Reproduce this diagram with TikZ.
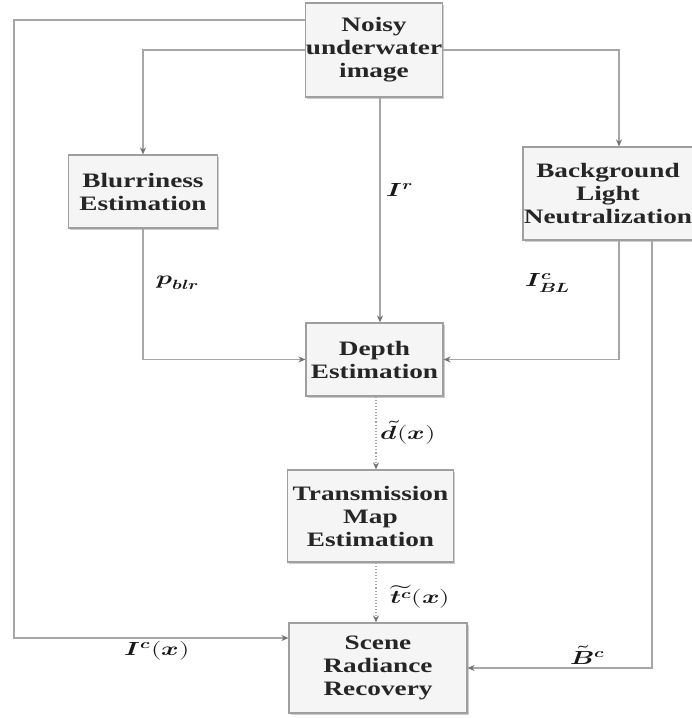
\documentclass[tikz,border=0pt]{standalone}
\usepackage{graphicx}
\usepackage{fontspec}
\usepackage{unicode-math}
\setmathfont{Latin Modern Math}
\usetikzlibrary{arrows.meta,shadows}
\newfontfamily\boxfont[FakeStretch=1.33]{Liberation Serif}
\newcommand{\hs}[1]{\scalebox{1.4}[1]{$#1$}}
\tikzset{
  box/.style={draw=gray!75, line width=1.2pt, fill=gray!8,
    drop shadow={shadow xshift=1.5pt, shadow yshift=-1.5pt, fill=gray!55, opacity=0.7},
    font=\boxfont\bfseries\fontsize{20.5}{23}\selectfont, align=center, inner sep=0pt, text=black!85},
  conn/.style={draw=gray!70, line width=1.1pt, -{Stealth[length=7pt,width=6pt,color=gray!90!black]}},
  dotconn/.style={conn, dotted},
  lbl/.style={font=\fontsize{19}{19}\selectfont, text=black!90}
}
\begin{document}
\begin{tikzpicture}[x=1pt,y=-1pt]
\useasboundingbox (0,0) rectangle (692,718);
\fill[white] (0,0) rectangle (692,718);
\clip (0,0) rectangle (692,718);
\node[box, minimum width=136pt, minimum height=94pt] (noisy) at (374,50) {Noisy\\underwater\\image};
\node[box, minimum width=149pt, minimum height=73pt] (blur) at (143,191.5) {Blurriness\\Estimation};
\node[box, minimum width=170pt, minimum height=93pt] (bg) at (608,193.5) {Background\\Light\\Neutralization};
\node[box, minimum width=137pt, minimum height=73pt] (depth) at (374.5,359.5) {Depth\\Estimation};
\node[box, minimum width=166pt, minimum height=92pt] (trans) at (370.5,516) {Transmission\\Map\\Estimation};
\node[box, minimum width=178pt, minimum height=90pt] (scene) at (378,668) {Scene\\Radiance\\Recovery};
\coordinate (lc) at (14,20);
\draw[conn] (noisy.west |- 0,20) -- (lc) |- (scene.west |- 0,638);
\draw[conn] (noisy.west) -| (blur.north);
\draw[conn] (noisy.east) -| (bg.north -| 619,0);
\draw[conn] (noisy.south -| 380,0) -- (depth.north -| 380,0);
\draw[conn] (blur.south) |- (depth.west);
\draw[conn] (bg.south -| 619,0) |- (depth.east);
\draw[conn] (bg.south -| 652,0) |- (scene.east);
\draw[dotconn] (depth.south -| 376,0) -- (trans.north -| 376,0);
\draw[dotconn] (trans.south -| 376,0) -- (scene.north -| 376,0);
\node[lbl] (lr) at (400,190) {\hs{\symbfit{I}^{\symbfit{r}}}};
\node[lbl] (lp) at (178,283) {\hs{\symbfit{p}_{\symbfit{blr}}}};
\node[lbl] (lbl1) at (548,283) {\hs{\symbfit{I}^{\symbfit{c}}_{\symbfit{BL}}}};
\node[lbl] (ld) at (408,432) {\hs{\tilde{\symbfit{d}}(\symbfit{x})}};
\node[lbl] (lt) at (420,597) {\hs{\widetilde{\symbfit{t}^{\symbfit{c}}}(\symbfit{x})}};
\node[lbl] (lic) at (157,651) {\hs{\symbfit{I}^{\symbfit{c}}(\symbfit{x})}};
\node[lbl] (lb) at (588,655) {\hs{\tilde{\symbfit{B}}^{\symbfit{c}}}};
\end{tikzpicture}
\end{document}
